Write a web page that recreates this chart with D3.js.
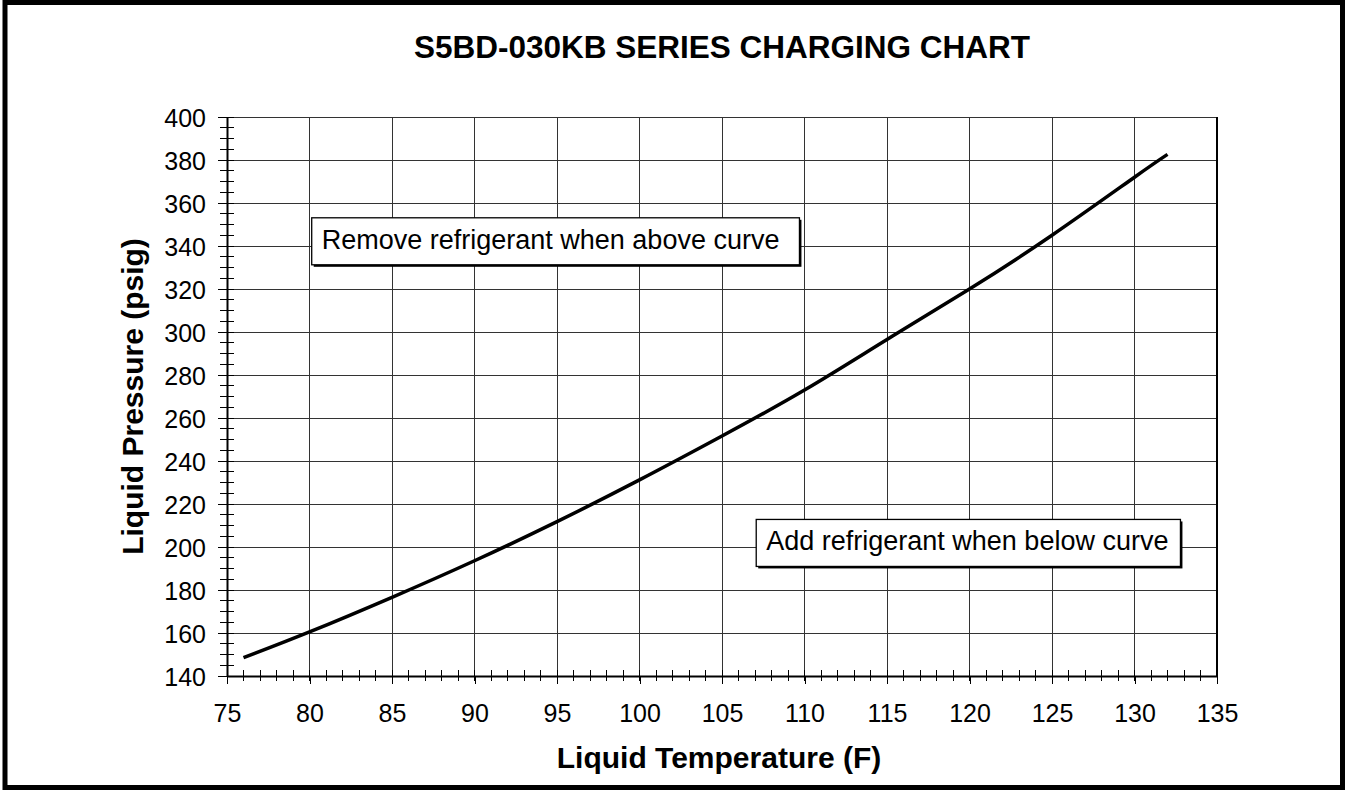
<!DOCTYPE html>
<html>
<head>
<meta charset="utf-8">
<script src="https://cdn.jsdelivr.net/npm/d3@7"></script>
<style>
  html, body { margin: 0; padding: 0; background: #fff; }
  svg { display: block; font-family: Arial, "Liberation Sans", sans-serif; }
  .tick text { fill: #000; }
</style>
</head>
<body>
<div id="chart"></div>
<script>
/* Charging curve: liquid temperature (F) vs pressure (psig) */
const temperatures = [76, 80, 85, 90, 95, 100, 105, 110, 115, 120, 125, 130, 132];
const pressures = [148.5, 160.5, 176.6, 193.6, 211.8, 231.2, 251.6, 273, 296.5, 320, 345, 372, 382.6];

/* Axis ticks */
const xTicks = d3.range(75, 136, 5);
const yTicks = d3.range(140, 401, 20);
const xMinorTicks = d3.range(75, 136, 1);
const yMinorTicks = d3.range(140, 401, 5);

/* Text */
const chartTitle = "S5BD-030KB SERIES CHARGING CHART";
const xTitle = "Liquid Temperature (F)";
const yTitle = "Liquid Pressure (psig)";

/* Annotation labels, anchored at the start of the text in data units */
const noteTexts = ["Remove refrigerant when above curve", "Add refrigerant when below curve"];
const noteAnchors = [[80.74, 338.7], [107.68, 198.4]];

const width = 1345;
const height = 790;
const margin = { top: 117, right: 128, bottom: 114, left: 227 };
// extra room on the right of each text box (the first box is a bit wider)
const noteRightPad = [20, 12];

drawChart();

// ---------------- Function definitions ---------------- //

function drawChart() {
  const svg = d3.select("#chart").append("svg")
    .attr("width", width)
    .attr("height", height);

  // Thick outer frame
  svg.append("rect")
    .attr("x", 5)
    .attr("y", 2.5)
    .attr("width", width - 7.5)
    .attr("height", height - 5)
    .attr("fill", "#fff")
    .attr("stroke", "#000")
    .attr("stroke-width", 5);

  const x = d3.scaleLinear()
    .domain([75, 135])
    .range([margin.left, width - margin.right]);

  const y = d3.scaleLinear()
    .domain([140, 400])
    .range([height - margin.bottom, margin.top]);

  drawGrid(svg, x, y);
  drawAxes(svg, x, y);
  drawCurve(svg, x, y);
  drawNotes(svg, x, y);
  drawTitles(svg, x, y);
}

/*
 * Grid lines at each major tick, plus the plot border.
 */
function drawGrid(svg, x, y) {
  const g = svg.append("g")
    .attr("class", "grid")
    .attr("stroke", "#333")
    .attr("stroke-width", 1)
    .attr("shape-rendering", "crispEdges");

  g.selectAll("line.v")
    .data(xTicks.slice(1))
    .enter()
    .append("line")
    .attr("class", "v")
    .attr("x1", d => x(d))
    .attr("x2", d => x(d))
    .attr("y1", y(140))
    .attr("y2", y(400));

  g.selectAll("line.h")
    .data(yTicks.slice(1))
    .enter()
    .append("line")
    .attr("class", "h")
    .attr("x1", x(75))
    .attr("x2", x(135))
    .attr("y1", d => y(d))
    .attr("y2", d => y(d));

  // Right edge of the plot is a little heavier
  svg.append("line")
    .attr("x1", x(135))
    .attr("x2", x(135))
    .attr("y1", y(140))
    .attr("y2", y(400))
    .attr("stroke", "#000")
    .attr("stroke-width", 2);
}

/*
 * Bottom and left axes with major ticks outside and minor ticks crossing.
 */
function drawAxes(svg, x, y) {
  // Minor ticks that straddle the axis lines
  svg.append("g")
    .attr("stroke", "#000")
    .attr("stroke-width", 1)
    .attr("shape-rendering", "crispEdges")
    .selectAll("line")
    .data(xMinorTicks)
    .enter()
    .append("line")
    .attr("x1", d => x(d))
    .attr("x2", d => x(d))
    .attr("y1", y(140) - 6)
    .attr("y2", y(140) + 5);

  svg.append("g")
    .attr("stroke", "#000")
    .attr("stroke-width", 1)
    .attr("shape-rendering", "crispEdges")
    .selectAll("line")
    .data(yMinorTicks)
    .enter()
    .append("line")
    .attr("x1", x(75) - 7)
    .attr("x2", x(75) + 7)
    .attr("y1", d => y(d))
    .attr("y2", d => y(d));

  const xAxis = svg.append("g")
    .attr("transform", "translate(0," + y(140) + ")")
    .call(d3.axisBottom(x).tickValues(xTicks).tickSize(8).tickPadding(20).tickSizeOuter(0));

  const yAxis = svg.append("g")
    .attr("transform", "translate(" + x(75) + ",0)")
    .call(d3.axisLeft(y).tickValues(yTicks).tickSize(9).tickPadding(12).tickSizeOuter(0));

  [xAxis, yAxis].forEach(axis => {
    axis.select(".domain").attr("stroke", "#000").attr("stroke-width", 2);
    axis.selectAll(".tick line").attr("stroke", "#000").attr("stroke-width", 1)
      .attr("shape-rendering", "crispEdges");
    axis.selectAll(".tick text")
      .attr("font-family", "Arial, 'Liberation Sans', sans-serif")
      .attr("font-size", 25);
  });
  xAxis.selectAll(".tick text").attr("dy", "0.71em");
  yAxis.selectAll(".tick text").attr("dy", "0.36em");
}

/*
 * The charging curve itself.
 */
function drawCurve(svg, x, y) {
  const line = d3.line()
    .x((d, i) => x(temperatures[i]))
    .y(d => y(d))
    .curve(d3.curveNatural);

  svg.append("path")
    .datum(pressures)
    .attr("fill", "none")
    .attr("stroke", "#000")
    .attr("stroke-width", 3.5)
    .attr("stroke-linecap", "butt")
    .attr("d", line);
}

/*
 * Text boxes with a small drop shadow, sized from their text.
 */
function drawNotes(svg, x, y) {
  noteTexts.forEach((txt, i) => {
    const g = svg.append("g");
    const shadow = g.append("rect").attr("fill", "#000");
    const box = g.append("rect")
      .attr("fill", "#fff")
      .attr("stroke", "#000")
      .attr("stroke-width", 1.3);
    const label = g.append("text")
      .attr("x", x(noteAnchors[i][0]))
      .attr("y", y(noteAnchors[i][1]))
      .attr("font-size", 27)
      .attr("fill", "#000")
      .text(txt);

    const bb = label.node().getBBox();
    const bx = bb.x - 10;
    const by = y(noteAnchors[i][1]) - 31;
    const bw = bb.width + 10 + noteRightPad[i];
    const bh = 47;
    shadow.attr("x", bx + 2).attr("y", by + 2).attr("width", bw).attr("height", bh);
    box.attr("x", bx).attr("y", by).attr("width", bw).attr("height", bh);
  });
}

/*
 * Chart title and axis titles.
 */
function drawTitles(svg, x, y) {
  const cx = (x(75) + x(135)) / 2;

  svg.append("text")
    .attr("x", cx)
    .attr("y", 58)
    .attr("text-anchor", "middle")
    .attr("font-weight", "bold")
    .attr("font-size", 31.5)
    .text(chartTitle);

  svg.append("text")
    .attr("x", cx - 3)
    .attr("y", 768)
    .attr("text-anchor", "middle")
    .attr("font-weight", "bold")
    .attr("font-size", 30)
    .text(xTitle);

  svg.append("text")
    .attr("transform", "translate(143," + (y(140) + y(400)) / 2 + ") rotate(-90)")
    .attr("text-anchor", "middle")
    .attr("font-weight", "bold")
    .attr("font-size", 30)
    .text(yTitle);
}
</script>
</body>
</html>
